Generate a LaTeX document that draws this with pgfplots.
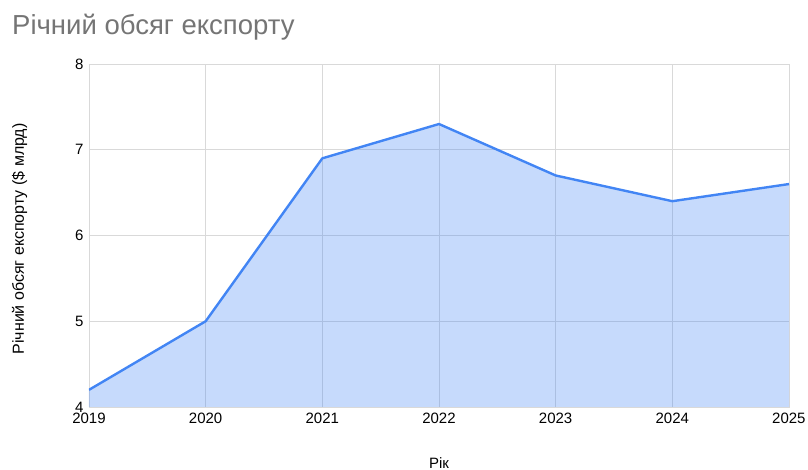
\documentclass[border=0pt]{standalone}
\usepackage{pgfplots}
\pgfplotsset{compat=1.18}
\usepackage{fontspec}
\setmainfont{Liberation Sans}
\definecolor{gline}{HTML}{4285F4}
\definecolor{ggrid}{HTML}{D9D9D9}
\definecolor{gtitle}{HTML}{757575}
\begin{document}
\begin{tikzpicture}[x=1pt,y=1pt]
\useasboundingbox (-89,-63) rectangle (719,407);
\begin{axis}[
  at={(0,0)}, anchor=south west,
  scale only axis, width=700pt, height=343pt,
  xmin=2019, xmax=2025, ymin=4, ymax=8,
  xtick={2019,...,2025}, ytick={4,5,6,7,8},
  xticklabel style={/pgf/number format/1000 sep={}},
  /pgf/number format/assume math mode=true,
  tick label style={font=\fontsize{15}{18}\selectfont, text=black},
  grid=both, grid style={ggrid, line width=0.8pt},
  axis line style={ggrid, line width=0.8pt},
  major tick length=0pt,
  xlabel={Рік}, ylabel={Річний обсяг експорту (\$ млрд)},
  xlabel style={font=\fontsize{15}{18}\selectfont, at={(axis description cs:0.5,0)}, anchor=center, yshift=-56pt},
  ylabel style={font=\fontsize{16}{18}\selectfont, at={(axis description cs:-0.099,0.49)}, anchor=center},
  yticklabel style={xshift=-2pt},
  xticklabel style={yshift=-2pt},
]
\addplot[draw=none, fill=gline, fill opacity=0.3] coordinates {(2019,4.2) (2020,5.0) (2021,6.9) (2022,7.3) (2023,6.7) (2024,6.4) (2025,6.6)} \closedcycle;
\addplot[gline, line width=2.4pt, line join=round] coordinates {(2019,4.2) (2020,5.0) (2021,6.9) (2022,7.3) (2023,6.7) (2024,6.4) (2025,6.6)};
\end{axis}
\node[anchor=base west, text=gtitle, font=\fontsize{27.5}{30}\selectfont, inner sep=0pt] at (-77,372) {Річний обсяг експорту};
\end{tikzpicture}
\end{document}
